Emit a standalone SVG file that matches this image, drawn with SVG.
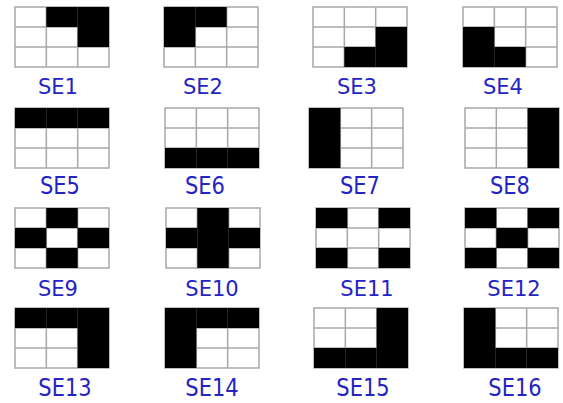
<svg xmlns="http://www.w3.org/2000/svg" xmlns:xlink="http://www.w3.org/1999/xlink" width="563" height="403" viewBox="0 0 563 403">
<style>
.bg{fill:#fff}
.cell{fill:#000}
.gl{stroke:#a8a8a8;stroke-width:1.5;fill:none}
.lbl{font-family:"DejaVu Sans","Verdana",sans-serif;font-size:21px;fill:#2424c4;text-anchor:middle}
</style>
<defs>
<rect id="base" x="0" y="0" width="94" height="60" class="bg"/>
<g id="lines">
<path class="gl" d="M31.33 0V60M62.67 0V60M0 20H94M0 40H94"/>
<rect class="gl" x="0" y="0" width="94" height="60"/>
</g>
<rect id="c" width="31.33" height="20" class="cell"/>
</defs>
<rect width="563" height="403" fill="#fff"/>

<g id="SE1" transform="translate(15,7)"><use xlink:href="#base"/><use xlink:href="#lines"/>
<use xlink:href="#c" x="31.33" y="0"/><use xlink:href="#c" x="62.67" y="0"/><use xlink:href="#c" x="62.67" y="20"/></g>
<g id="SE2" transform="translate(164,7)"><use xlink:href="#base"/><use xlink:href="#lines"/>
<use xlink:href="#c" x="0" y="0"/><use xlink:href="#c" x="31.33" y="0"/><use xlink:href="#c" x="0" y="20"/></g>
<g id="SE3" transform="translate(313,7)"><use xlink:href="#base"/><use xlink:href="#lines"/>
<use xlink:href="#c" x="62.67" y="20"/><use xlink:href="#c" x="31.33" y="40"/><use xlink:href="#c" x="62.67" y="40"/></g>
<g id="SE4" transform="translate(463,7)"><use xlink:href="#base"/><use xlink:href="#lines"/>
<use xlink:href="#c" x="0" y="20"/><use xlink:href="#c" x="0" y="40"/><use xlink:href="#c" x="31.33" y="40"/></g>

<g id="SE5" transform="translate(15,108)"><use xlink:href="#base"/><use xlink:href="#lines"/>
<use xlink:href="#c" x="0" y="0"/><use xlink:href="#c" x="31.33" y="0"/><use xlink:href="#c" x="62.67" y="0"/></g>
<g id="SE6" transform="translate(165,108)"><use xlink:href="#base"/><use xlink:href="#lines"/>
<use xlink:href="#c" x="0" y="40"/><use xlink:href="#c" x="31.33" y="40"/><use xlink:href="#c" x="62.67" y="40"/></g>
<g id="SE7" transform="translate(309,108)"><use xlink:href="#base"/><use xlink:href="#lines"/>
<use xlink:href="#c" x="0" y="0"/><use xlink:href="#c" x="0" y="20"/><use xlink:href="#c" x="0" y="40"/></g>
<g id="SE8" transform="translate(465,108)"><use xlink:href="#base"/><use xlink:href="#lines"/>
<use xlink:href="#c" x="62.67" y="0"/><use xlink:href="#c" x="62.67" y="20"/><use xlink:href="#c" x="62.67" y="40"/></g>

<g id="SE9" transform="translate(15,208)"><use xlink:href="#base"/><use xlink:href="#lines"/>
<use xlink:href="#c" x="31.33" y="0"/><use xlink:href="#c" x="0" y="20"/><use xlink:href="#c" x="62.67" y="20"/><use xlink:href="#c" x="31.33" y="40"/></g>
<g id="SE10" transform="translate(166,208)"><use xlink:href="#base"/><use xlink:href="#lines"/>
<use xlink:href="#c" x="31.33" y="0"/><use xlink:href="#c" x="0" y="20"/><use xlink:href="#c" x="31.33" y="20"/><use xlink:href="#c" x="62.67" y="20"/><use xlink:href="#c" x="31.33" y="40"/></g>
<g id="SE11" transform="translate(316,208)"><use xlink:href="#base"/><use xlink:href="#lines"/>
<use xlink:href="#c" x="0" y="0"/><use xlink:href="#c" x="62.67" y="0"/><use xlink:href="#c" x="0" y="40"/><use xlink:href="#c" x="62.67" y="40"/></g>
<g id="SE12" transform="translate(465,208)"><use xlink:href="#base"/><use xlink:href="#lines"/>
<use xlink:href="#c" x="0" y="0"/><use xlink:href="#c" x="62.67" y="0"/><use xlink:href="#c" x="31.33" y="20"/><use xlink:href="#c" x="0" y="40"/><use xlink:href="#c" x="62.67" y="40"/></g>

<g id="SE13" transform="translate(15,308)"><use xlink:href="#base"/><use xlink:href="#lines"/>
<use xlink:href="#c" x="0" y="0"/><use xlink:href="#c" x="31.33" y="0"/><use xlink:href="#c" x="62.67" y="0"/><use xlink:href="#c" x="62.67" y="20"/><use xlink:href="#c" x="62.67" y="40"/></g>
<g id="SE14" transform="translate(165,308)"><use xlink:href="#base"/><use xlink:href="#lines"/>
<use xlink:href="#c" x="0" y="0"/><use xlink:href="#c" x="31.33" y="0"/><use xlink:href="#c" x="62.67" y="0"/><use xlink:href="#c" x="0" y="20"/><use xlink:href="#c" x="0" y="40"/></g>
<g id="SE15" transform="translate(314,308)"><use xlink:href="#base"/><use xlink:href="#lines"/>
<use xlink:href="#c" x="0" y="40"/><use xlink:href="#c" x="31.33" y="40"/><use xlink:href="#c" x="62.67" y="40"/><use xlink:href="#c" x="62.67" y="0"/><use xlink:href="#c" x="62.67" y="20"/></g>
<g id="SE16" transform="translate(464,308)"><use xlink:href="#base"/><use xlink:href="#lines"/>
<use xlink:href="#c" x="0" y="40"/><use xlink:href="#c" x="31.33" y="40"/><use xlink:href="#c" x="62.67" y="40"/><use xlink:href="#c" x="0" y="0"/><use xlink:href="#c" x="0" y="20"/></g>

<g id="labels">
<text class="lbl" transform="translate(58,94)">SE1</text>
<text class="lbl" transform="translate(203,94)">SE2</text>
<text class="lbl" transform="translate(357,94)">SE3</text>
<text class="lbl" transform="translate(503,94)">SE4</text>
<text class="lbl" transform="translate(60,194) scale(1,1.15)">SE5</text>
<text class="lbl" transform="translate(205,194) scale(1,1.15)">SE6</text>
<text class="lbl" transform="translate(360,194) scale(1,1.15)">SE7</text>
<text class="lbl" transform="translate(510,194) scale(1,1.15)">SE8</text>
<text class="lbl" transform="translate(58,296) scale(1,1.05)">SE9</text>
<text class="lbl" transform="translate(212,296) scale(1,1.05)">SE10</text>
<text class="lbl" transform="translate(367,296) scale(1,1.05)">SE11</text>
<text class="lbl" transform="translate(514,296) scale(1,1.05)">SE12</text>
<text class="lbl" transform="translate(65,396) scale(1,1.15)">SE13</text>
<text class="lbl" transform="translate(212,396) scale(1,1.15)">SE14</text>
<text class="lbl" transform="translate(363,396) scale(1,1.15)">SE15</text>
<text class="lbl" transform="translate(515,396) scale(1,1.15)">SE16</text>
</g>
</svg>
